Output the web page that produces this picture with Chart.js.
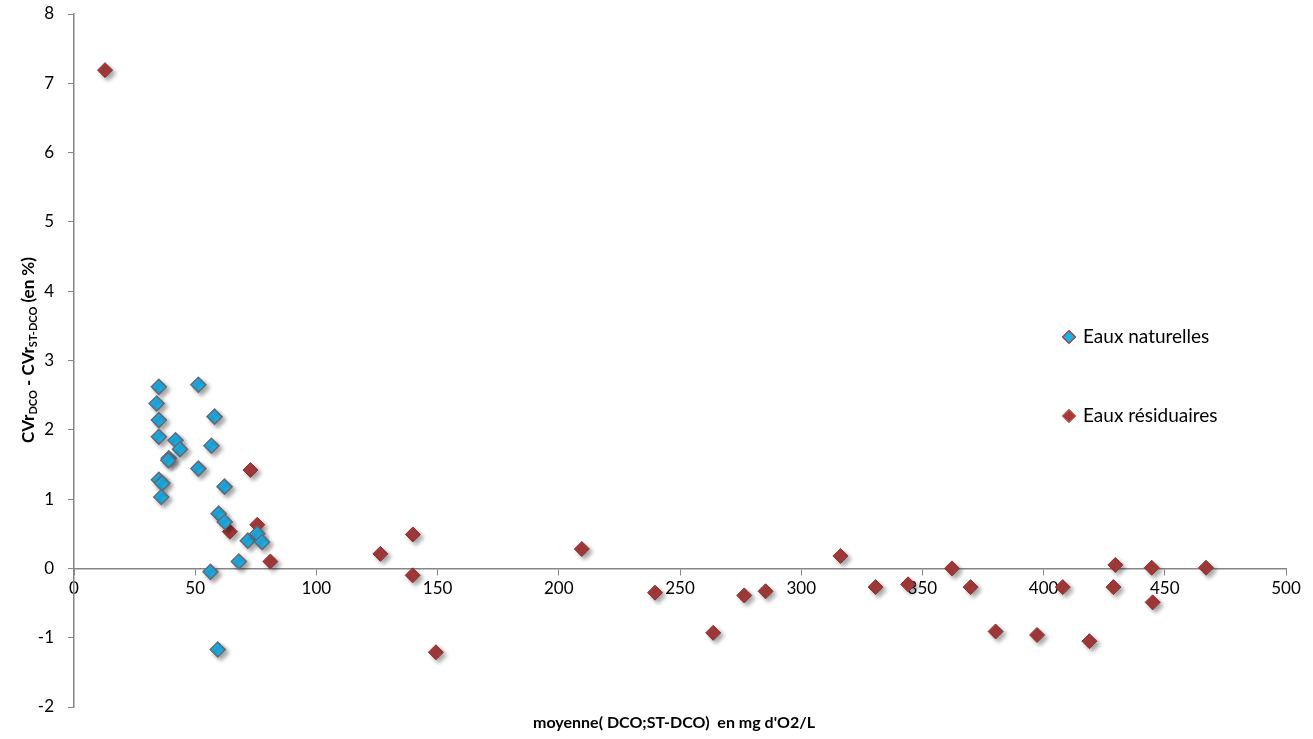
<!DOCTYPE html>
<html>
<head>
<meta charset="utf-8">
<script src="https://cdn.jsdelivr.net/npm/chart.js@4"></script>
<style>
  html, body { margin: 0; padding: 0; background: #fff; }
  #wrap { width: 1313px; height: 739px; }
</style>
</head>
<body>
<div id="wrap"><canvas id="myChart"></canvas></div>
<script>
// Eaux naturelles
const natX = [35.0, 51.3, 34.1, 58.0, 35.0, 35.0, 41.9, 56.7, 43.7, 39.1, 38.9, 51.3, 35.0, 36.4, 36.0, 62.1, 59.7, 62.2, 71.7, 75.6, 77.6, 68.0, 56.3, 59.3];
const natY = [2.62, 2.65, 2.38, 2.19, 2.14, 1.90, 1.85, 1.77, 1.72, 1.59, 1.56, 1.44, 1.28, 1.23, 1.03, 1.18, 0.79, 0.67, 0.40, 0.50, 0.38, 0.10, -0.05, -1.17];
// Eaux résiduaires
const resX = [12.8, 72.8, 75.6, 64.3, 81.0, 126.4, 139.8, 139.7, 149.3, 209.5, 239.7, 263.7, 276.5, 285.3, 316.2, 330.7, 344.1, 362.2, 369.9, 380.2, 397.3, 407.9, 418.9, 429.6, 428.8, 444.6, 445.0, 467.0];
const resY = [7.19, 1.42, 0.63, 0.53, 0.10, 0.21, 0.49, -0.10, -1.21, 0.28, -0.35, -0.93, -0.39, -0.33, 0.18, -0.27, -0.23, 0.00, -0.27, -0.91, -0.96, -0.27, -1.05, 0.05, -0.27, 0.01, -0.49, 0.01];

const seriesNames = ['Eaux naturelles', 'Eaux résiduaires'];
const xTitle = "moyenne( DCO;ST-DCO)  en mg d'O2/L";

function toPoints(xs, ys) {
  return xs.map((x, i) => ({ x: x, y: ys[i] }));
}

const FONT = 'Lato, "Open Sans", sans-serif';
const axisColor = '#868686';

const shadowPlugin = {
  id: 'shadow',
  beforeDatasetsDraw(chart) {
    const c = chart.ctx;
    c.save();
    c.shadowColor = 'rgba(0,0,0,0.35)';
    c.shadowBlur = 4;
    c.shadowOffsetX = 3;
    c.shadowOffsetY = 3;
  },
  afterDatasetsDraw(chart) {
    chart.ctx.restore();
  }
};

const labelsPlugin = {
  id: 'labels',
  afterDraw(chart) {
    const c = chart.ctx;
    const area = chart.chartArea;
    c.save();
    c.fillStyle = '#000';

    // x title
    c.font = 'bold 16px ' + FONT;
    c.textAlign = 'center';
    c.textBaseline = 'middle';
    c.fillText(xTitle, (area.left + area.right) / 2 - 6, 723);

    // y title with subscripts
    const parts = [
      ['CVr', 17, 0], ['DCO', 11, 3], [' - CVr', 17, 0], ['ST-DCO', 11, 3], [' (en %)', 17, 0]
    ];
    let total = 0;
    parts.forEach(p => { c.font = 'bold ' + p[1] + 'px ' + FONT; total += c.measureText(p[0]).width; });
    c.translate(34, 350);
    c.rotate(-Math.PI / 2);
    c.textAlign = 'left';
    c.textBaseline = 'alphabetic';
    let pos = -total / 2;
    parts.forEach(p => {
      c.font = 'bold ' + p[1] + 'px ' + FONT;
      c.fillText(p[0], pos, p[2]);
      pos += c.measureText(p[0]).width;
    });
    c.restore();

    // legend
    c.save();
    const ly = [337, 416];
    chart.data.datasets.forEach((ds, i) => {
      const cx = 1069, cy = ly[i], r = 6.5;
      c.beginPath();
      c.moveTo(cx, cy - r); c.lineTo(cx + r, cy); c.lineTo(cx, cy + r); c.lineTo(cx - r, cy); c.closePath();
      c.fillStyle = ds.backgroundColor;
      c.fill();
      c.lineWidth = 1.2;
      c.strokeStyle = i === 0 ? '#9a3b3b' : '#b85050';
      c.stroke();
      c.fillStyle = '#000';
      c.font = '19px ' + FONT;
      c.textAlign = 'left';
      c.textBaseline = 'middle';
      c.fillText(ds.label, 1083, cy);
    });
    c.restore();
  }
};

new Chart(document.getElementById('myChart'), {
  type: 'scatter',
  data: {
    datasets: [
      {
        label: seriesNames[0],
        data: toPoints(natX, natY),
        pointStyle: 'rectRot',
        pointRadius: 7.5,
        pointHoverRadius: 7.5,
        backgroundColor: '#1fb0e8',
        borderColor: '#5f6b78',
        borderWidth: 1.5
      },
      {
        label: seriesNames[1],
        data: toPoints(resX, resY),
        pointStyle: 'rectRot',
        pointRadius: 7.5,
        pointHoverRadius: 7.5,
        backgroundColor: '#a33a3a',
        borderColor: '#8c3030',
        borderWidth: 1
      }
    ]
  },
  options: {
    responsive: true,
    maintainAspectRatio: false,
    animation: false,
    layout: { padding: { left: 0, top: 14, right: 27, bottom: 32 } },
    plugins: {
      legend: { display: false },
      tooltip: { enabled: false }
    },
    scales: {
      x: {
        type: 'linear',
        position: { y: 0 },
        min: 0,
        max: 500,
        ticks: { stepSize: 50, color: '#000', font: { family: FONT, size: 17 }, padding: 4, maxRotation: 0 },
        grid: { drawOnChartArea: false, drawTicks: true, tickLength: 6, color: axisColor },
        border: { color: axisColor, width: 1.5 }
      },
      y: {
        min: -2,
        max: 8,
        afterFit(scale) { scale.width = 74; scale.paddingTop = 0; scale.paddingBottom = 0; },
        ticks: { stepSize: 1, color: '#000', font: { family: FONT, size: 17 }, padding: 14 },
        grid: { drawOnChartArea: false, drawTicks: true, tickLength: 6, color: axisColor },
        border: { color: axisColor, width: 1.5 }
      }
    }
  },
  plugins: [shadowPlugin, labelsPlugin]
});
</script>
</body>
</html>
